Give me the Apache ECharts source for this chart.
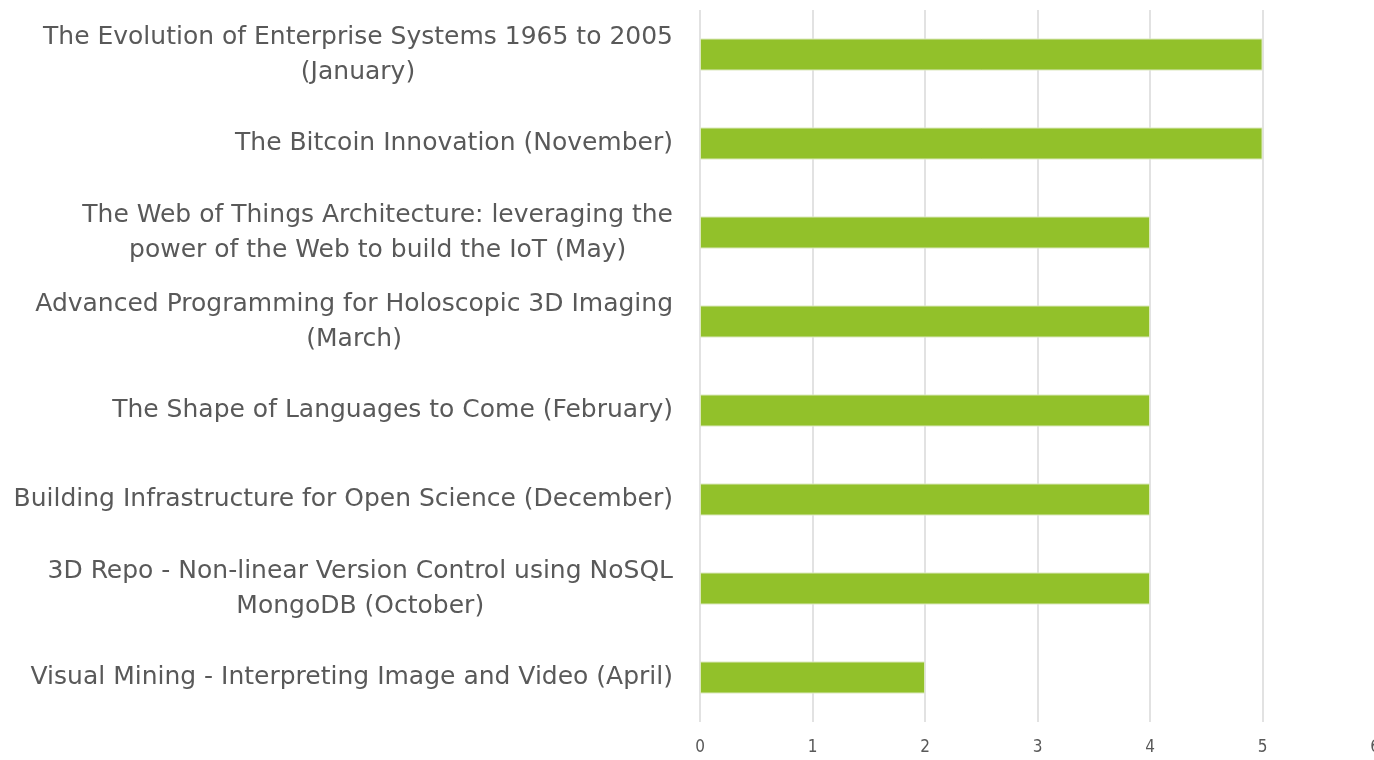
<!DOCTYPE html>
<html>
<head>
<meta charset="utf-8">
<script src="https://cdn.jsdelivr.net/npm/echarts@6/dist/echarts.min.js"></script>
<style>
  html, body { margin: 0; padding: 0; background: #fff; }
  #chart-box { width: 1374px; height: 760px; }
</style>
</head>
<body>
<div id="chart-box"></div>
<script>
// categories listed bottom to top (category axis starts at the bottom)
const talks = [
  "Visual Mining - Interpreting Image and Video (April)",
  "3D Repo - Non-linear Version Control using NoSQL\nMongoDB (October)",
  "Building Infrastructure for Open Science (December)",
  "The Shape of Languages to Come (February)",
  "Advanced Programming for Holoscopic 3D Imaging\n(March)",
  "The Web of Things Architecture: leveraging the\npower of the Web to build the IoT (May)",
  "The Bitcoin Innovation (November)",
  "The Evolution of Enterprise Systems 1965 to 2005\n(January)",
];
const counts = [2, 4, 4, 4, 4, 4, 5, 5];
const xTicks = [0, 1, 2, 3, 4, 5, 6];

const chart = echarts.init(document.getElementById("chart-box"));
const option = {
  animation: false,
  textStyle: { fontFamily: "DejaVu Sans" },
  grid: {
    left: 700,
    top: 10,
    width: 675,
    bottom: 38,
    outerBoundsMode: "none",
  },
  xAxis: {
    type: "value",
    min: xTicks[0],
    max: xTicks[xTicks.length - 1],
    interval: 1,
    axisLine: { show: false },
    axisTick: { show: false },
    axisLabel: {
      color: "#595959",
      fontSize: 17,
      margin: 17,
      fontFamily: "DejaVu Sans Condensed",
    },
    splitLine: { lineStyle: { color: "#d9d9d9", width: 1.5 } },
  },
  yAxis: {
    type: "category",
    data: talks,
    axisLine: { show: false },
    axisTick: { show: false },
    axisLabel: {
      margin: 27,
      formatter: (v) => "{t|" + v + "}",
      rich: {
        t: {
          color: "#595959",
          fontSize: 25,
          lineHeight: 35,
          align: "center",
          fontFamily: "DejaVu Sans",
        },
      },
    },
  },
  series: [
    {
      name: "count",
      type: "bar",
      data: counts,
      barWidth: 32,
      itemStyle: {
        color: "#92c12a",
        borderColor: "#dbe8bd",
        borderWidth: 1,
      },
    },
  ],
};
chart.setOption(option);
</script>
</body>
</html>
